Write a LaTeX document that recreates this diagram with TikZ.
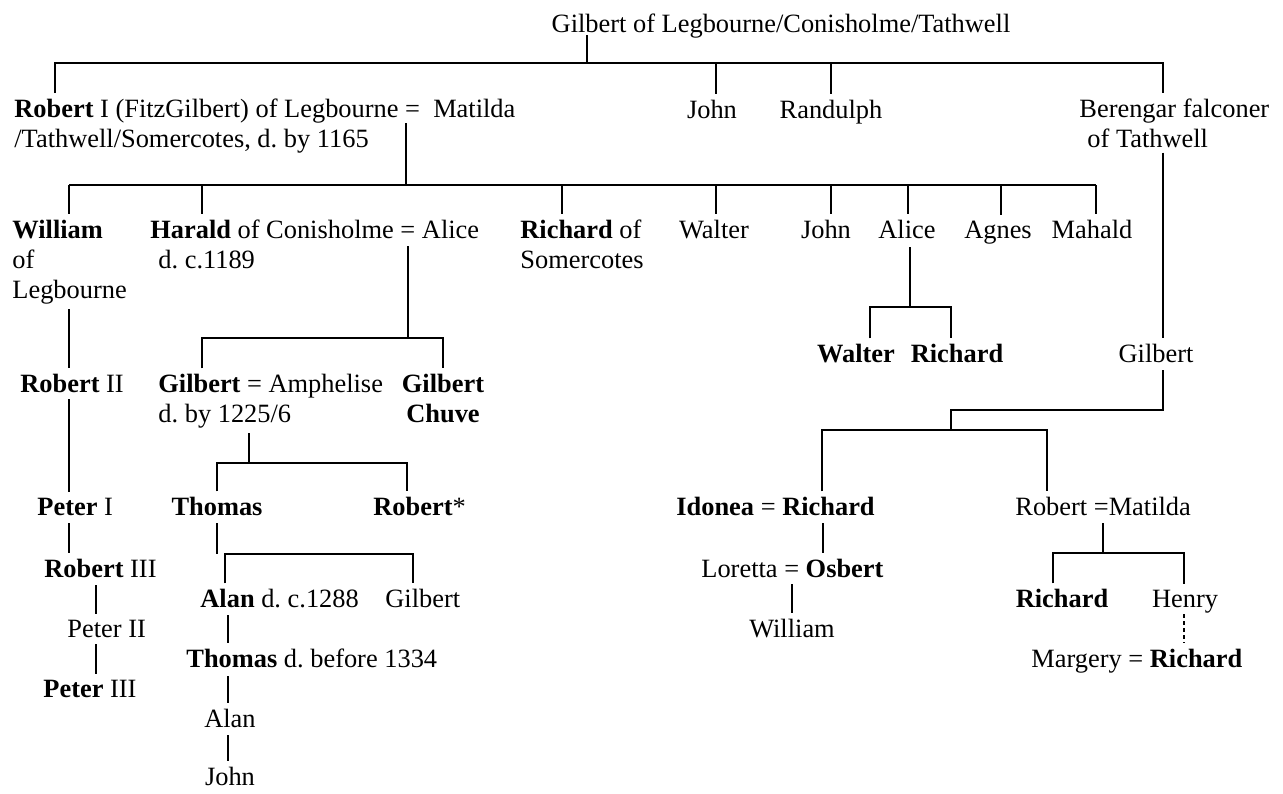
\documentclass[tikz,border=0pt]{standalone}
\usepackage{fontspec}
\setmainfont{Liberation Serif}
\frenchspacing

\begin{document}
\begin{tikzpicture}[x=0.5pt,y=-0.5pt,
    person/.style={inner xsep=0pt,inner ysep=2.5pt,font=\fontsize{13.2}{15}\selectfont},
    pl/.style={person,anchor=base west,align=left},
    pc/.style={person,anchor=base,align=center},
    kin/.style={line width=0.7pt},
    kindash/.style={kin,dash pattern=on 2pt off 1.5pt}]
      \useasboundingbox (0,0) rectangle (1283,793);

      % generation 0 and 1 (a node of several lines stands on its last line)
      \node [pc] (g0) at (781,32) {Gilbert of Legbourne/Conisholme/Tathwell};
      \node [pl] (rob1) at (14,147) {\textbf{Robert} I (FitzGilbert) of Legbourne = \ Matilda\\/Tathwell/Somercotes, d. by 1165};
      \node [pc] (john1) at (712,118) {John};
      \node [pc] (rand) at (831,118) {Randulph};
      \node [pl] (bere) at (1079,147) {Berengar falconer\\\hspace*{4pt}of Tathwell};

      \coordinate (k1) at (587,63);
      \coordinate (k1a) at (55,63);
      \coordinate (k1b) at (716,63);
      \coordinate (k1c) at (831,63);
      \coordinate (k1d) at (1163,63);
      \draw [kin] (k1 |- g0.base) ++(0,3) -- (k1);
      \draw [kin] (k1a |- rob1.north) -- (k1a) -- (k1d) -- (k1d |- bere.north);
      \draw [kin] (k1b) -- (k1b |- john1.north);
      \draw [kin] (k1c) -- (k1c |- rand.north);

      % children of Robert I
      \node [pl] (will) at (12,298) {\textbf{William}\\of\\Legbourne};
      \node [pl] (hara) at (150,268) {\textbf{Harald} of Conisholme = Alice\\\hspace*{4pt}d. c.1189};
      \node [pl] (rich1) at (520,268) {\textbf{Richard} of\\Somercotes};
      \node [pc] (walt1) at (714,238) {Walter};
      \node [pc] (john2) at (826,238) {John};
      \node [pc] (alic1) at (907,238) {Alice};
      \node [pc] (agne) at (998,238) {Agnes};
      \node [pc] (maha) at (1092,238) {Mahald};

      \coordinate (k2) at (406,185);
      \draw [kin] (k2 |- rob1.north) ++(0,30) -- (k2);
      \draw [kin] (69,185) -- (1096,185);
      \foreach \x/\n in {69/will,202/hara,562/rich1,716/walt1,831/john2,908/alic1,1001/agne,1096/maha}
        \draw [kin] (\x,185) -- (\x,185 |- \n.north);

      % line of William
      \node [pl] (rob2) at (20,392) {\textbf{Robert} II};
      \node [pl] (pet1) at (37,515) {\textbf{Peter} I};
      \node [pl] (rob3) at (44,577) {\textbf{Robert} III};
      \node [pl] (pet2) at (67,637) {Peter II};
      \node [pl] (pet3) at (43,697) {\textbf{Peter} III};

      \coordinate (k3) at (69,0);
      \coordinate (k3b) at (96,0);
      \draw [kin] (k3 |- will.south) -- (k3 |- rob2.north);
      \draw [kin] (k3 |- rob2.base) ++(0,7) -- (k3 |- pet1.north);
      \draw [kin] (k3 |- pet1.base) ++(0,8) -- (k3 |- rob3.north);
      \draw [kin] (k3b |- rob3.base) ++(0,8) -- (k3b |- pet2.north);
      \draw [kin] (k3b |- pet2.base) ++(0,7) -- (k3b |- pet3.north);

      % line of Harald
      \node [pl] (gilb1) at (158,422) {\textbf{Gilbert} = Amphelise\\d. by 1225/6};
      \node [pc] (chuv) at (443,422) {\textbf{Gilbert}\\\textbf{Chuve}};

      \coordinate (k4) at (408,338);
      \coordinate (k4a) at (202,338);
      \coordinate (k4b) at (443,338);
      \draw [kin] (k4 |- hara.north) ++(0,32) -- (k4);
      \draw [kin] (k4a |- gilb1.north) -- (k4a) -- (k4b) -- (k4b |- chuv.north);

      \node [pc] (thom1) at (217,515) {\textbf{Thomas}};
      \node [pl] (robs) at (373,515) {\textbf{Robert}*};

      \coordinate (k5) at (249,463);
      \coordinate (k5a) at (217,463);
      \coordinate (k5b) at (407,463);
      \draw [kin] (k5 |- gilb1.south) -- (k5);
      \draw [kin] (k5a |- thom1.north) -- (k5a) -- (k5b) -- (k5b |- robs.north);

      \node [pl] (alan1) at (200,607) {\textbf{Alan} d. c.1288};
      \node [pl] (gilb2) at (385,607) {Gilbert};
      \node [pl] (thom2) at (186,667) {\textbf{Thomas} d. before 1334};
      \node [pc] (alan2) at (230,727) {Alan};
      \node [pc] (john3) at (230,785) {John};

      \coordinate (k6) at (217,554);
      \coordinate (k6a) at (225,554);
      \coordinate (k6b) at (413,554);
      \coordinate (k7) at (228,0);
      \draw [kin] (k6 |- thom1.base) ++(0,8) -- (k6);
      \draw [kin] (k6a |- alan1.north) -- (k6a) -- (k6b) -- (k6b |- gilb2.north);
      \draw [kin] (k7 |- alan1.base) ++(0,8) -- (k7 |- thom2.north);
      \draw [kin] (k7 |- thom2.base) ++(0,9) -- (k7 |- alan2.north);
      \draw [kin] (k7 |- alan2.base) ++(0,8) -- (k7 |- john3.north);

      % children of Alice
      \node [pc] (walt2) at (856,362) {\textbf{Walter}};
      \node [pc] (rich2) at (957,362) {\textbf{Richard}};

      \coordinate (k8) at (910,307);
      \coordinate (k8a) at (870,307);
      \coordinate (k8b) at (951,307);
      \draw [kin] (k8 |- alic1.base) ++(0,9) -- (k8);
      \draw [kin] (k8a |- walt2.north) -- (k8a) -- (k8b) -- (k8b |- rich2.north);

      % line of Berengar
      \node [pc] (gilb3) at (1156,362) {Gilbert};
      \draw [kin] (k1d |- bere.south) -- (k1d |- gilb3.north);

      \node [pl] (idon) at (676,515) {\textbf{Idonea} = \textbf{Richard}};
      \node [pl] (robm) at (1015,515) {Robert =Matilda};

      \coordinate (k9) at (951,410);
      \coordinate (k10) at (951,430);
      \coordinate (k10a) at (822,430);
      \coordinate (k10b) at (1047,430);
      \draw [kin] (k1d |- gilb3.base) ++(0,8) -- (k1d |- k9) -- (k9) -- (k10);
      \draw [kin] (k10a |- idon.north) -- (k10a) -- (k10b) -- (k10b |- robm.north);

      \node [pl] (lore) at (701,577) {Loretta = \textbf{Osbert}};
      \node [pc] (will2) at (792,637) {William};

      \coordinate (k11) at (823,0);
      \coordinate (k11b) at (792,0);
      \draw [kin] (k11 |- idon.base) ++(0,8) -- (k11 |- lore.north);
      \draw [kin] (k11b |- lore.base) ++(0,7) -- (k11b |- will2.north);

      \node [pc] (rich3) at (1062,607) {\textbf{Richard}};
      \node [pc] (henr) at (1185,607) {Henry};
      \node [pl] (marg) at (1031,667) {Margery = \textbf{Richard}};

      \coordinate (k12) at (1103,553);
      \coordinate (k12a) at (1053,553);
      \coordinate (k12b) at (1184,553);
      \draw [kin] (k12 |- robm.base) ++(0,8) -- (k12);
      \draw [kin] (k12a |- rich3.north) -- (k12a) -- (k12b) -- (k12b |- henr.north);
      \draw [kindash] (k12b |- henr.base) ++(0,7) -- (k12b |- marg.north);
    \end{tikzpicture}
\end{document}
